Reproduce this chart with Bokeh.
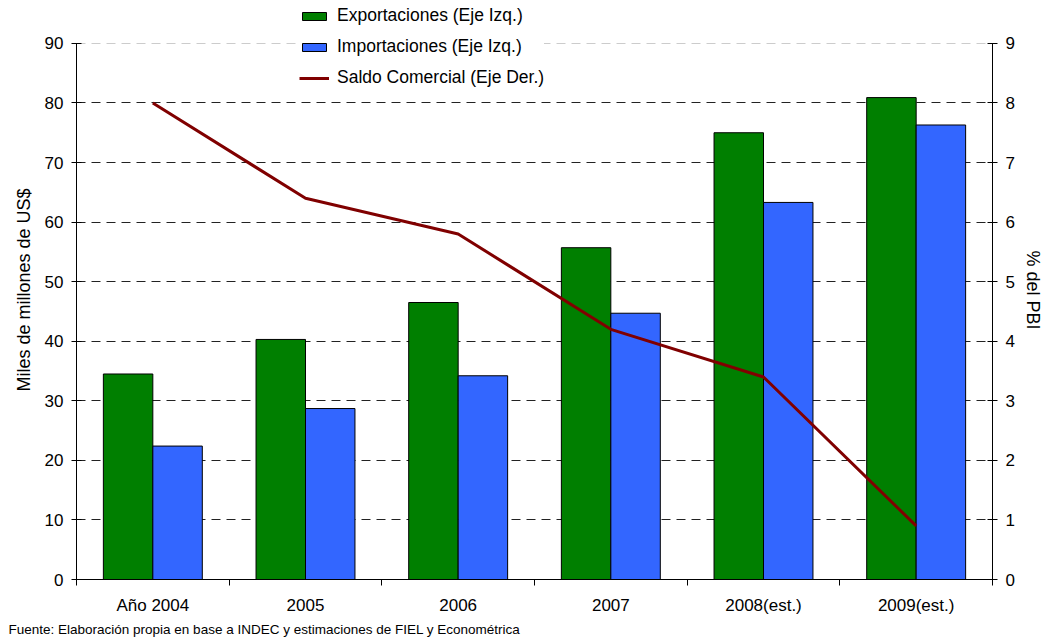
from bokeh.plotting import figure
from bokeh.models import (ColumnDataSource, Range1d, LinearAxis, FixedTicker, Grid,
                          Legend, LegendItem, Title, CustomJSTickFormatter)
from bokeh.transform import dodge
from bokeh.embed import file_html
from bokeh.resources import INLINE

categories = ["Año 2004", "2005", "2006", "2007", "2008(est.)", "2009(est.)"]
exportaciones = [34.5, 40.3, 46.5, 55.7, 75.0, 80.9]
importaciones = [22.4, 28.7, 34.2, 44.7, 63.3, 76.3]
saldo_comercial = [8.0, 6.4, 5.8, 4.2, 3.4, 0.9]
left_ticks = [0, 10, 20, 30, 40, 50, 60, 70, 80, 90]
right_ticks = [0, 1, 2, 3, 4, 5, 6, 7, 8, 9]

FONT = "Liberation Sans"
n = len(categories)
xs = [i + 0.5 for i in range(n)]
src = ColumnDataSource(dict(x=xs, exp=exportaciones, imp=importaciones, saldo=saldo_comercial))

# frame reaches the canvas top so the legend (which sits above the 90 line) is not clipped;
# the axes are bounded to 0..90 / 0..9
LEFT_MAX, RIGHT_MAX = 90, 9
headroom = 1.08
p = figure(width=1047, height=644, output_backend="svg", toolbar_location=None,
           x_range=Range1d(0, n), y_range=Range1d(0, LEFT_MAX * headroom),
           min_border_left=76, min_border_right=55, min_border_top=0, min_border_bottom=65)
p.outline_line_color = None
p.background_fill_color = "white"
p.border_fill_color = "white"
p.extra_y_ranges = {"right": Range1d(0, RIGHT_MAX * headroom)}

# grid
p.xgrid.visible = False
p.ygrid.ticker = FixedTicker(ticks=left_ticks[1:-1])
p.ygrid.grid_line_color = "#222222"
p.ygrid.grid_line_dash = "9 6"
p.ygrid.grid_line_width = 1
top_grid = Grid(dimension=1, ticker=FixedTicker(ticks=[left_ticks[-1]]),
                grid_line_color="#cccccc", grid_line_dash="9 6", grid_line_width=1)
p.add_layout(top_grid)

bw = 0.324
r_exp = p.vbar(x=dodge("x", -bw / 2), top="exp", width=bw, source=src,
               fill_color="#007F00", line_color="black", line_width=1)
r_imp = p.vbar(x=dodge("x", bw / 2), top="imp", width=bw, source=src,
               fill_color="#3366FF", line_color="black", line_width=1)
r_line = p.line(x="x", y="saldo", source=src, y_range_name="right",
                line_color="#800000", line_width=3)

# x axis
xa = p.xaxis[0]
xa.ticker = FixedTicker(ticks=xs, minor_ticks=list(range(n + 1)))
xa.formatter = CustomJSTickFormatter(args=dict(labels=categories),
                                     code="return labels[Math.floor(tick)];")
xa.major_tick_line_color = None
xa.major_tick_in = 0
xa.major_tick_out = 0
xa.minor_tick_in = 0
xa.minor_tick_out = 6
xa.minor_tick_line_color = "black"
xa.axis_line_color = "black"
xa.major_label_standoff = 10
xa.major_label_text_font = FONT
xa.major_label_text_font_size = "17px"
xa.major_label_text_color = "black"

# left axis
ya = p.yaxis[0]
ya.ticker = FixedTicker(ticks=left_ticks)
ya.bounds = (0, LEFT_MAX)
ya.major_tick_in = 5
ya.major_tick_out = 5
ya.minor_tick_line_color = None
ya.axis_line_color = "black"
ya.major_tick_line_color = "black"
ya.major_label_standoff = 8
ya.major_label_text_font = FONT
ya.major_label_text_font_size = "17px"
ya.major_label_text_color = "black"
ya.axis_label = "Miles de millones de US$"
ya.axis_label_text_font = FONT
ya.axis_label_text_font_size = "18px"
ya.axis_label_text_font_style = "normal"
ya.axis_label_text_color = "black"
ya.axis_label_standoff = 8

# right axis
ra = LinearAxis(y_range_name="right", ticker=FixedTicker(ticks=right_ticks), bounds=(0, RIGHT_MAX))
ra.major_tick_in = 5
ra.major_tick_out = 5
ra.minor_tick_line_color = None
ra.axis_line_color = "black"
ra.major_tick_line_color = "black"
ra.major_label_standoff = 8
ra.major_label_text_font = FONT
ra.major_label_text_font_size = "17px"
ra.major_label_text_color = "black"
ra.axis_label = "% del PBI"
ra.axis_label_text_font = FONT
ra.axis_label_text_font_size = "18px"
ra.axis_label_text_font_style = "normal"
ra.axis_label_text_color = "black"
ra.axis_label_standoff = 5
p.add_layout(ra, "right")

legend = Legend(items=[
    LegendItem(label="Exportaciones (Eje Izq.)", renderers=[r_exp]),
    LegendItem(label="Importaciones (Eje Izq.)", renderers=[r_imp]),
    LegendItem(label="Saldo Comercial (Eje Der.)", renderers=[r_line]),
], location=(223, 491))
legend.border_line_color = None
legend.background_fill_color = "white"
legend.background_fill_alpha = 1
legend.label_text_font = FONT
legend.label_text_font_size = "17.5px"
legend.label_text_color = "black"
legend.glyph_width = 30
legend.glyph_height = 10
legend.label_standoff = 8
legend.label_height = 20
legend.spacing = 10
legend.padding = 8
legend.margin = 0
p.add_layout(legend)

note = Title(text="Fuente: Elaboración propia en base a INDEC y estimaciones de FIEL y Econométrica",
             align="left", offset=-68, text_font=FONT, text_font_size="13.5px",
             text_font_style="normal", text_color="black", standoff=4)
p.add_layout(note, "below")

open("out.html", "w").write(file_html(p, INLINE))
